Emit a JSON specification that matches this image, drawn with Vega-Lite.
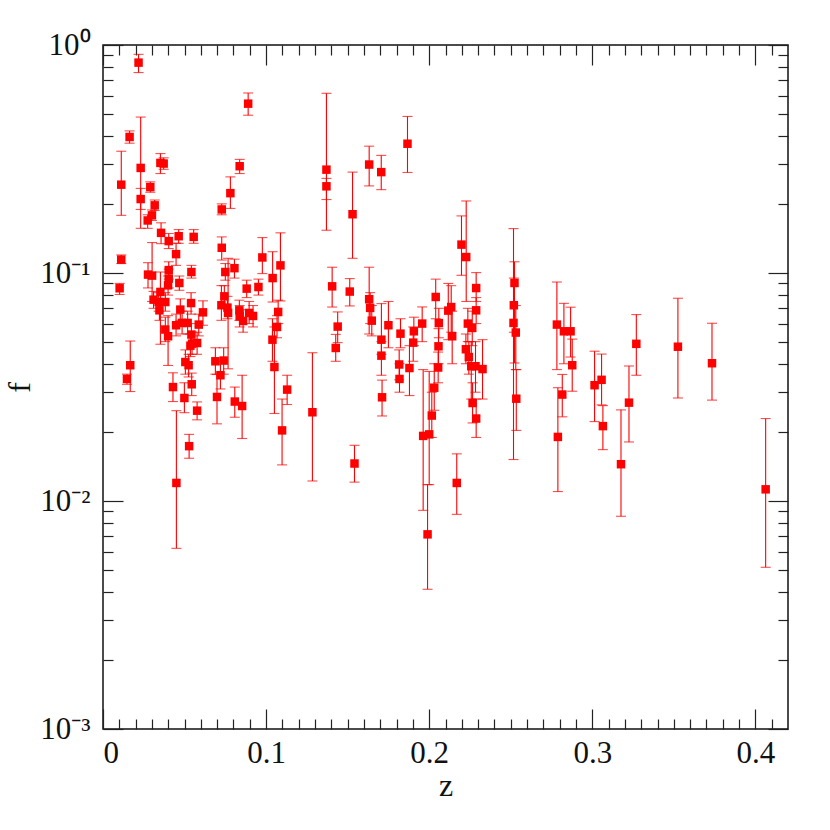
{
  "$schema": "https://vega.github.io/schema/vega-lite/v6.json",
  "width": 685,
  "height": 684,
  "autosize": {"type": "none"},
  "padding": {"left": 103, "top": 45, "right": 42, "bottom": 101},
  "background": "white",
  "config": {
    "view": {"stroke": "#111111", "strokeWidth": 1.5},
    "axis": {
      "domain": false, "grid": false,
      "tickColor": "#222222", "tickWidth": 1.2,
      "labelFont": "Liberation Serif", "labelFontSize": 31, "labelColor": "#111111",
      "titleFont": "Liberation Serif", "titleFontWeight": "normal", "titleFontSize": 32, "titleColor": "#111111"
    }
  },
  "data": {"values": [
    {"z":0.0218,"f":0.837,"lo":0.757,"hi":0.91},
    {"z":0.0890,"f":0.553,"lo":0.492,"hi":0.616},
    {"z":0.0163,"f":0.395,"lo":0.371,"hi":0.420},
    {"z":0.0112,"f":0.244,"lo":0.179,"hi":0.342},
    {"z":0.0231,"f":0.289,"lo":0.157,"hi":0.483},
    {"z":0.0231,"f":0.211,"lo":0.190,"hi":0.235},
    {"z":0.0352,"f":0.304,"lo":0.273,"hi":0.334},
    {"z":0.0372,"f":0.302,"lo":0.285,"hi":0.320},
    {"z":0.0290,"f":0.238,"lo":0.226,"hi":0.251},
    {"z":0.0317,"f":0.198,"lo":0.188,"hi":0.209},
    {"z":0.0300,"f":0.179,"lo":0.170,"hi":0.189},
    {"z":0.0274,"f":0.170,"lo":0.157,"hi":0.180},
    {"z":0.0356,"f":0.150,"lo":0.1345,"hi":0.166},
    {"z":0.0403,"f":0.138,"lo":0.128,"hi":0.149},
    {"z":0.0464,"f":0.145,"lo":0.135,"hi":0.155},
    {"z":0.0556,"f":0.144,"lo":0.135,"hi":0.155},
    {"z":0.0448,"f":0.121,"lo":0.108,"hi":0.135},
    {"z":0.0728,"f":0.190,"lo":0.180,"hi":0.201},
    {"z":0.0728,"f":0.129,"lo":0.114,"hi":0.144},
    {"z":0.0781,"f":0.224,"lo":0.192,"hi":0.264},
    {"z":0.0838,"f":0.294,"lo":0.273,"hi":0.315},
    {"z":0.0112,"f":0.1145,"lo":0.110,"hi":0.120},
    {"z":0.0102,"f":0.0857,"lo":0.0805,"hi":0.090},
    {"z":0.0276,"f":0.0984,"lo":0.086,"hi":0.111},
    {"z":0.0301,"f":0.0974,"lo":0.075,"hi":0.136},
    {"z":0.0403,"f":0.103,"lo":0.094,"hi":0.112},
    {"z":0.0542,"f":0.101,"lo":0.095,"hi":0.108},
    {"z":0.0750,"f":0.101,"lo":0.093,"hi":0.110},
    {"z":0.0806,"f":0.105,"lo":0.095,"hi":0.115},
    {"z":0.0977,"f":0.117,"lo":0.0994,"hi":0.143},
    {"z":0.1088,"f":0.108,"lo":0.0754,"hi":0.150},
    {"z":0.1040,"f":0.095,"lo":0.0746,"hi":0.124},
    {"z":0.0881,"f":0.0854,"lo":0.078,"hi":0.093},
    {"z":0.0953,"f":0.0868,"lo":0.080,"hi":0.094},
    {"z":0.0468,"f":0.0904,"lo":0.084,"hi":0.097},
    {"z":0.0167,"f":0.0394,"lo":0.0302,"hi":0.0503},
    {"z":0.0147,"f":0.0343,"lo":0.0325,"hi":0.036},
    {"z":0.0403,"f":0.0945,"lo":0.086,"hi":0.104},
    {"z":0.0399,"f":0.0883,"lo":0.080,"hi":0.097},
    {"z":0.0352,"f":0.0826,"lo":0.0487,"hi":0.101},
    {"z":0.0310,"f":0.0764,"lo":0.070,"hi":0.083},
    {"z":0.0341,"f":0.0746,"lo":0.068,"hi":0.082},
    {"z":0.0382,"f":0.0746,"lo":0.068,"hi":0.082},
    {"z":0.0346,"f":0.0686,"lo":0.062,"hi":0.076},
    {"z":0.0382,"f":0.0565,"lo":0.050,"hi":0.064},
    {"z":0.0399,"f":0.0528,"lo":0.0393,"hi":0.065},
    {"z":0.0474,"f":0.0691,"lo":0.062,"hi":0.077},
    {"z":0.0448,"f":0.0590,"lo":0.053,"hi":0.066},
    {"z":0.0485,"f":0.0604,"lo":0.054,"hi":0.068},
    {"z":0.0519,"f":0.0604,"lo":0.054,"hi":0.068},
    {"z":0.0540,"f":0.0738,"lo":0.066,"hi":0.082},
    {"z":0.0587,"f":0.0594,"lo":0.053,"hi":0.066},
    {"z":0.0613,"f":0.0672,"lo":0.059,"hi":0.0755},
    {"z":0.0542,"f":0.0537,"lo":0.048,"hi":0.060},
    {"z":0.0546,"f":0.0490,"lo":0.044,"hi":0.055},
    {"z":0.0577,"f":0.0493,"lo":0.044,"hi":0.055},
    {"z":0.0536,"f":0.0480,"lo":0.043,"hi":0.054},
    {"z":0.0505,"f":0.0407,"lo":0.036,"hi":0.046},
    {"z":0.0525,"f":0.0394,"lo":0.035,"hi":0.044},
    {"z":0.0544,"f":0.0325,"lo":0.029,"hi":0.0364},
    {"z":0.0429,"f":0.0316,"lo":0.0273,"hi":0.0365},
    {"z":0.0499,"f":0.0283,"lo":0.0244,"hi":0.033},
    {"z":0.0577,"f":0.0249,"lo":0.0227,"hi":0.0272},
    {"z":0.0528,"f":0.0174,"lo":0.0154,"hi":0.0196},
    {"z":0.0450,"f":0.0120,"lo":0.0062,"hi":0.0249},
    {"z":0.0744,"f":0.0790,"lo":0.071,"hi":0.088},
    {"z":0.0726,"f":0.0722,"lo":0.062,"hi":0.088},
    {"z":0.0763,"f":0.0705,"lo":0.063,"hi":0.079},
    {"z":0.0767,"f":0.0668,"lo":0.038,"hi":0.116},
    {"z":0.0836,"f":0.0686,"lo":0.062,"hi":0.076},
    {"z":0.0838,"f":0.0645,"lo":0.058,"hi":0.072},
    {"z":0.0859,"f":0.0616,"lo":0.055,"hi":0.069},
    {"z":0.0896,"f":0.0668,"lo":0.060,"hi":0.075},
    {"z":0.0920,"f":0.0648,"lo":0.058,"hi":0.072},
    {"z":0.1074,"f":0.0675,"lo":0.060,"hi":0.076},
    {"z":0.1067,"f":0.0580,"lo":0.052,"hi":0.065},
    {"z":0.1039,"f":0.0510,"lo":0.041,"hi":0.063},
    {"z":0.1051,"f":0.0387,"lo":0.0242,"hi":0.058},
    {"z":0.1129,"f":0.0308,"lo":0.0265,"hi":0.0356},
    {"z":0.1098,"f":0.0204,"lo":0.0144,"hi":0.028},
    {"z":0.0808,"f":0.0273,"lo":0.0233,"hi":0.0316},
    {"z":0.0853,"f":0.0261,"lo":0.0188,"hi":0.0356},
    {"z":0.0699,"f":0.0286,"lo":0.0218,"hi":0.0359},
    {"z":0.0689,"f":0.0410,"lo":0.036,"hi":0.047},
    {"z":0.0740,"f":0.0413,"lo":0.036,"hi":0.047},
    {"z":0.0720,"f":0.0356,"lo":0.031,"hi":0.041},
    {"z":0.1370,"f":0.284,"lo":0.154,"hi":0.614},
    {"z":0.1370,"f":0.240,"lo":0.21,"hi":0.26},
    {"z":0.1530,"f":0.181,"lo":0.116,"hi":0.277},
    {"z":0.1632,"f":0.299,"lo":0.241,"hi":0.360},
    {"z":0.1706,"f":0.277,"lo":0.232,"hi":0.328},
    {"z":0.1867,"f":0.369,"lo":0.276,"hi":0.486},
    {"z":0.1405,"f":0.0874,"lo":0.0709,"hi":0.106},
    {"z":0.1513,"f":0.0829,"lo":0.0717,"hi":0.0945},
    {"z":0.1439,"f":0.0582,"lo":0.0495,"hi":0.0675},
    {"z":0.1427,"f":0.0469,"lo":0.041,"hi":0.0538},
    {"z":0.1632,"f":0.0767,"lo":0.054,"hi":0.106},
    {"z":0.1638,"f":0.0703,"lo":0.060,"hi":0.082},
    {"z":0.1648,"f":0.0618,"lo":0.053,"hi":0.072},
    {"z":0.1707,"f":0.0510,"lo":0.044,"hi":0.0734},
    {"z":0.1707,"f":0.0434,"lo":0.0356,"hi":0.050},
    {"z":0.1750,"f":0.0590,"lo":0.047,"hi":0.075},
    {"z":0.1824,"f":0.0542,"lo":0.047,"hi":0.063},
    {"z":0.1906,"f":0.0555,"lo":0.048,"hi":0.064},
    {"z":0.1902,"f":0.0495,"lo":0.041,"hi":0.058},
    {"z":0.1957,"f":0.0600,"lo":0.050,"hi":0.071},
    {"z":0.1816,"f":0.0397,"lo":0.034,"hi":0.046},
    {"z":0.1879,"f":0.0383,"lo":0.029,"hi":0.048},
    {"z":0.2040,"f":0.0785,"lo":0.063,"hi":0.094},
    {"z":0.2059,"f":0.0603,"lo":0.052,"hi":0.070},
    {"z":0.2117,"f":0.0684,"lo":0.051,"hi":0.090},
    {"z":0.2135,"f":0.0709,"lo":0.055,"hi":0.088},
    {"z":0.2141,"f":0.0528,"lo":0.040,"hi":0.068},
    {"z":0.2057,"f":0.0477,"lo":0.040,"hi":0.057},
    {"z":0.2055,"f":0.0385,"lo":0.033,"hi":0.045},
    {"z":0.2198,"f":0.1332,"lo":0.0977,"hi":0.178},
    {"z":0.2227,"f":0.1175,"lo":0.075,"hi":0.207},
    {"z":0.2288,"f":0.0859,"lo":0.075,"hi":0.1004},
    {"z":0.2288,"f":0.0686,"lo":0.060,"hi":0.078},
    {"z":0.2237,"f":0.0600,"lo":0.050,"hi":0.070},
    {"z":0.2264,"f":0.0574,"lo":0.048,"hi":0.068},
    {"z":0.2225,"f":0.0463,"lo":0.040,"hi":0.054},
    {"z":0.2243,"f":0.0428,"lo":0.036,"hi":0.050},
    {"z":0.2258,"f":0.0390,"lo":0.028,"hi":0.050},
    {"z":0.2284,"f":0.0390,"lo":0.030,"hi":0.050},
    {"z":0.1284,"f":0.0245,"lo":0.01224,"hi":0.0447},
    {"z":0.1542,"f":0.0146,"lo":0.0121,"hi":0.01755},
    {"z":0.1711,"f":0.0285,"lo":0.0236,"hi":0.0339},
    {"z":0.1818,"f":0.0343,"lo":0.030,"hi":0.040},
    {"z":0.2031,"f":0.0314,"lo":0.025,"hi":0.040},
    {"z":0.2016,"f":0.0237,"lo":0.019,"hi":0.030},
    {"z":0.1963,"f":0.0193,"lo":0.0091,"hi":0.0377},
    {"z":0.2000,"f":0.0196,"lo":0.0118,"hi":0.037},
    {"z":0.1990,"f":0.00714,"lo":0.0041,"hi":0.0118},
    {"z":0.2169,"f":0.0120,"lo":0.00874,"hi":0.0161},
    {"z":0.2266,"f":0.0269,"lo":0.022,"hi":0.033},
    {"z":0.2288,"f":0.0230,"lo":0.019,"hi":0.028},
    {"z":0.2327,"f":0.0379,"lo":0.028,"hi":0.051},
    {"z":0.2523,"f":0.0904,"lo":0.0403,"hi":0.112},
    {"z":0.2519,"f":0.0722,"lo":0.055,"hi":0.095},
    {"z":0.2517,"f":0.0604,"lo":0.0152,"hi":0.1566},
    {"z":0.2531,"f":0.0548,"lo":0.0377,"hi":0.072},
    {"z":0.2534,"f":0.0281,"lo":0.0204,"hi":0.0377},
    {"z":0.2783,"f":0.0594,"lo":0.0377,"hi":0.0913},
    {"z":0.2789,"f":0.0191,"lo":0.011,"hi":0.0314},
    {"z":0.2816,"f":0.0293,"lo":0.0234,"hi":0.0359},
    {"z":0.2826,"f":0.0555,"lo":0.040,"hi":0.0736},
    {"z":0.2867,"f":0.0555,"lo":0.0428,"hi":0.0708},
    {"z":0.2877,"f":0.0394,"lo":0.0303,"hi":0.0513},
    {"z":0.3014,"f":0.0322,"lo":0.0223,"hi":0.0454},
    {"z":0.3057,"f":0.0340,"lo":0.0264,"hi":0.0441},
    {"z":0.3065,"f":0.0213,"lo":0.0168,"hi":0.0262},
    {"z":0.3176,"f":0.0145,"lo":0.00857,"hi":0.0251},
    {"z":0.3225,"f":0.0270,"lo":0.01815,"hi":0.0391},
    {"z":0.3270,"f":0.0489,"lo":0.0356,"hi":0.0657},
    {"z":0.3525,"f":0.0475,"lo":0.0283,"hi":0.0775},
    {"z":0.3734,"f":0.0402,"lo":0.0277,"hi":0.0602},
    {"z":0.4063,"f":0.01125,"lo":0.00512,"hi":0.023}
  ]},
  "resolve": {"axis": {"x": "independent", "y": "independent"}},
  "layer": [
    {
      "mark": {"type": "rule", "color": "#ff0000", "strokeWidth": 1.1},
      "encoding": {
        "x": {"field": "z", "type": "quantitative",
          "scale": {"domain": [0, 0.42], "nice": false, "zero": false},
          "axis": {"orient": "bottom", "values": [0, 0.1, 0.2, 0.3, 0.4], "tickSize": -20, "labelPadding": 29,
            "labelExpr": "datum.value == 0 ? '0' : format(datum.value, '.1f')", "title": "z", "titlePadding": 2}},
        "y": {"field": "lo", "type": "quantitative",
          "scale": {"type": "log", "domain": [0.001, 1], "nice": false},
          "axis": {"orient": "left", "values": [0.001, 0.01, 0.1, 1], "tickSize": -20, "labelPadding": 33,
            "labelExpr": "datum.value >= 1 ? '10⁰' : datum.value >= 0.1 ? '10⁻¹' : datum.value >= 0.01 ? '10⁻²' : '10⁻³'",
            "title": "f", "titlePadding": 3}},
        "y2": {"field": "hi"}
      }
    },
    {
      "mark": {"type": "tick", "orient": "horizontal", "color": "#ff0000", "thickness": 1.1, "size": 10},
      "encoding": {
        "x": {"field": "z", "type": "quantitative",
          "scale": {"domain": [0, 0.42], "nice": false, "zero": false},
          "axis": {"orient": "top", "values": [0, 0.1, 0.2, 0.3, 0.4], "tickSize": -20, "labels": false, "title": null}},
        "y": {"field": "lo", "type": "quantitative",
          "scale": {"type": "log", "domain": [0.001, 1], "nice": false},
          "axis": {"orient": "right", "values": [0.001, 0.01, 0.1, 1], "tickSize": -20, "labels": false, "title": null}}
      }
    },
    {
      "mark": {"type": "tick", "orient": "horizontal", "color": "#ff0000", "thickness": 1.1, "size": 10},
      "encoding": {
        "x": {"field": "z", "type": "quantitative",
          "scale": {"domain": [0, 0.42], "nice": false, "zero": false},
          "axis": {"orient": "bottom", "values": [0.01,0.02,0.03,0.04,0.05,0.06,0.07,0.08,0.09,0.11,0.12,0.13,0.14,0.15,0.16,0.17,0.18,0.19,0.21,0.22,0.23,0.24,0.25,0.26,0.27,0.28,0.29,0.31,0.32,0.33,0.34,0.35,0.36,0.37,0.38,0.39,0.41], "tickSize": -10, "labels": false, "title": null}},
        "y": {"field": "hi", "type": "quantitative",
          "scale": {"type": "log", "domain": [0.001, 1], "nice": false},
          "axis": {"orient": "left", "values": [0.002,0.003,0.004,0.005,0.006,0.007,0.008,0.009,0.02,0.03,0.04,0.05,0.06,0.07,0.08,0.09,0.2,0.3,0.4,0.5,0.6,0.7,0.8,0.9], "tickSize": -10, "labels": false, "title": null}}
      }
    },
    {
      "mark": {"type": "square", "color": "#ff0000", "filled": true, "opacity": 1, "size": 72},
      "encoding": {
        "x": {"field": "z", "type": "quantitative",
          "scale": {"domain": [0, 0.42], "nice": false, "zero": false},
          "axis": {"orient": "top", "values": [0.01,0.02,0.03,0.04,0.05,0.06,0.07,0.08,0.09,0.11,0.12,0.13,0.14,0.15,0.16,0.17,0.18,0.19,0.21,0.22,0.23,0.24,0.25,0.26,0.27,0.28,0.29,0.31,0.32,0.33,0.34,0.35,0.36,0.37,0.38,0.39,0.41], "tickSize": -10, "labels": false, "title": null}},
        "y": {"field": "f", "type": "quantitative",
          "scale": {"type": "log", "domain": [0.001, 1], "nice": false},
          "axis": {"orient": "right", "values": [0.002,0.003,0.004,0.005,0.006,0.007,0.008,0.009,0.02,0.03,0.04,0.05,0.06,0.07,0.08,0.09,0.2,0.3,0.4,0.5,0.6,0.7,0.8,0.9], "tickSize": -10, "labels": false, "title": null}}
      }
    }
  ]
}
